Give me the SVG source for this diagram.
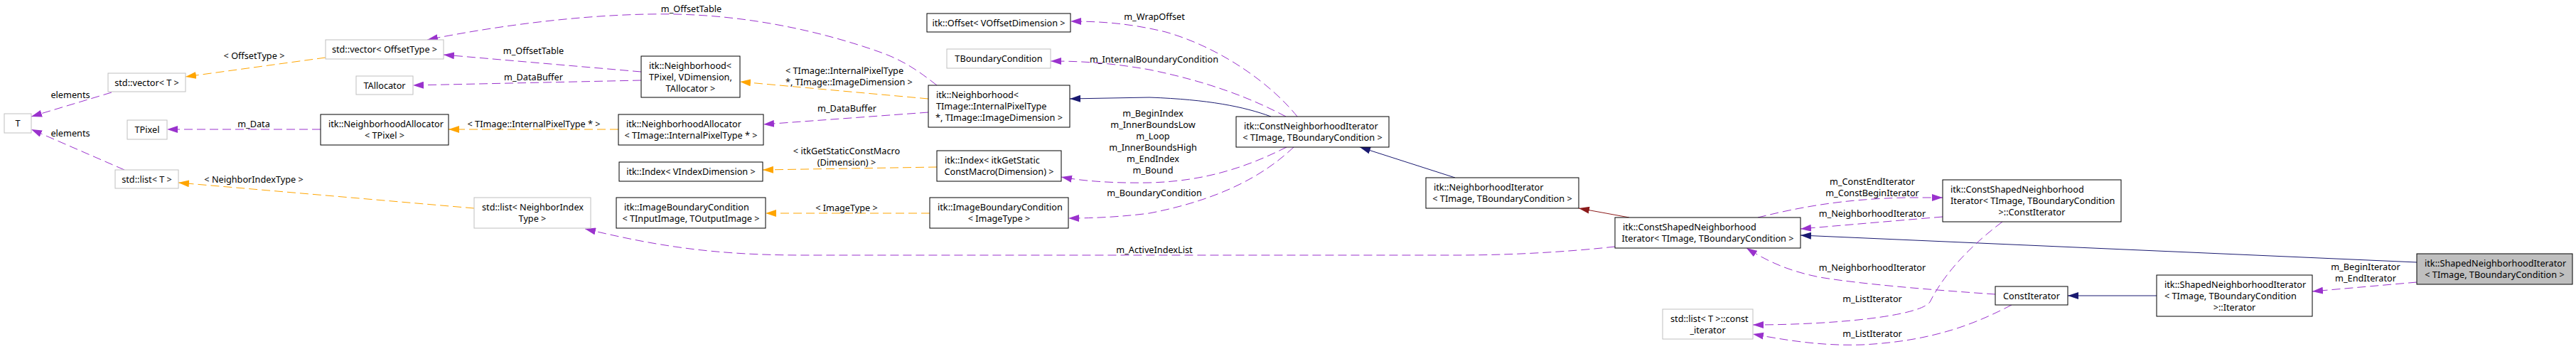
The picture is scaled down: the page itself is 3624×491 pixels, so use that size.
<svg xmlns="http://www.w3.org/2000/svg" width="3624" height="491" viewBox="0 0 3624 491">
<style>
rect{fill:#fff;stroke:#000;stroke-width:1}
.g rect{stroke:#bfbfbf}
.h rect{fill:#bfbfbf;stroke:#000}
text{font-family:"Noto Sans","Open Sans","DejaVu Sans",sans-serif;font-size:12.7px;fill:#000}
.c{text-anchor:middle}
.l{text-anchor:start}
#edges path{fill:none;stroke-width:1}
#edges .p{stroke:#9a32cd;stroke-dasharray:12,6}
#edges .o{stroke:#ffa500;stroke-dasharray:12,6}
#edges .b{stroke:#191970}
#edges .r{stroke:#8b1a1a}
</style>
<defs>
<marker id="ap" viewBox="0 0 15 10" refX="15" refY="5" markerWidth="15" markerHeight="10" markerUnits="userSpaceOnUse" orient="auto"><path d="M0,0L15,5L0,10z" fill="#9a32cd"/></marker>
<marker id="ao" viewBox="0 0 15 10" refX="15" refY="5" markerWidth="15" markerHeight="10" markerUnits="userSpaceOnUse" orient="auto"><path d="M0,0L15,5L0,10z" fill="#ffa500"/></marker>
<marker id="ab" viewBox="0 0 15 10" refX="15" refY="5" markerWidth="15" markerHeight="10" markerUnits="userSpaceOnUse" orient="auto"><path d="M0,0L15,5L0,10z" fill="#191970"/></marker>
<marker id="ar" viewBox="0 0 15 10" refX="15" refY="5" markerWidth="15" markerHeight="10" markerUnits="userSpaceOnUse" orient="auto"><path d="M0,0L15,5L0,10z" fill="#8b1a1a"/></marker>
</defs>
<rect x="0" y="0" width="3624" height="491" style="fill:#fff;stroke:none"/>
<g id="edges">
<path class="p" marker-end="url(#ap)" d="M157,130L44,164"/>
<path class="p" marker-end="url(#ap)" d="M175,239L44,182"/>
<path class="o" marker-end="url(#ao)" d="M458,81L261,108"/>
<path class="p" marker-end="url(#ap)" d="M451,182L235,182"/>
<path class="o" marker-end="url(#ao)" d="M667,293L251,257"/>
<path class="p" marker-end="url(#ap)" d="M902,101L624,77"/>
<path class="p" marker-end="url(#ap)" d="M902,113L581,120"/>
<path class="o" marker-end="url(#ao)" d="M870,182L631,182"/>
<path class="p" marker-end="url(#ap)" d="M1318,120C1290,98 1270,85 1240,74C1150,42 1050,22 950,20C850,18 720,32 601,56"/>
<path class="o" marker-end="url(#ao)" d="M1306,139L1041,115"/>
<path class="p" marker-end="url(#ap)" d="M1306,158L1074,175"/>
<path class="o" marker-end="url(#ao)" d="M1318,235L1073,239"/>
<path class="o" marker-end="url(#ao)" d="M1308,300L1077,300"/>
<path class="p" marker-end="url(#ap)" d="M2272,347C2200,355 2120,359 2050,359L1130,359C1000,359 920,345 823,322"/>
<path class="p" marker-end="url(#ap)" d="M1825,164C1790,120 1720,68 1640,45C1590,33 1550,30 1506,30"/>
<path class="p" marker-end="url(#ap)" d="M1809,164C1760,138 1700,115 1617,98C1560,88 1520,86 1478,86"/>
<path class="b" marker-end="url(#ab)" d="M1788,164C1750,150 1700,140 1617,137L1505,139"/>
<path class="p" marker-end="url(#ap)" d="M1810,207C1760,232 1700,255 1617,257C1560,258 1520,254 1493,249"/>
<path class="p" marker-end="url(#ap)" d="M1820,207C1780,245 1720,280 1617,300C1570,306 1530,307 1503,307"/>
<path class="b" marker-end="url(#ab)" d="M2047,250L1913,207"/>
<path class="r" marker-end="url(#ar)" d="M2292,306L2221,293"/>
<path class="b" marker-end="url(#ab)" d="M3400,369L2533,331"/>
<path class="p" marker-end="url(#ap)" d="M2473,306C2530,292 2590,280 2683,278L2733,278"/>
<path class="p" marker-end="url(#ap)" d="M2733,305L2533,322"/>
<path class="p" marker-end="url(#ap)" d="M2807,414C2720,408 2620,400 2560,390C2520,382 2490,370 2457,349"/>
<path class="p" marker-end="url(#ap)" d="M2817,312C2760,355 2730,395 2715,425C2700,445 2580,457 2466,457"/>
<path class="p" marker-end="url(#ap)" d="M2830,429C2780,455 2720,480 2620,485C2560,487 2510,478 2466,470"/>
<path class="b" marker-end="url(#ab)" d="M3034,416L2909,416"/>
<path class="p" marker-end="url(#ap)" d="M3400,397L3253,410"/>
<g id="edge-labels">
<text class="c" x="99" y="137.5">elements</text>
<text class="c" x="99" y="191.5">elements</text>
<text class="c" x="357.5" y="82.5">&lt; OffsetType &gt;</text>
<text class="c" x="357" y="178.5">m_Data</text>
<text class="c" x="357" y="256.5">&lt; NeighborIndexType &gt;</text>
<text class="c" x="750.5" y="75.5">m_OffsetTable</text>
<text class="c" x="750.5" y="112.5">m_DataBuffer</text>
<text class="c" x="751" y="178.5">&lt; TImage::InternalPixelType * &gt;</text>
<text class="c" x="972.5" y="16.5">m_OffsetTable</text>
<text class="l" x="1105" y="103.5">&lt; TImage::InternalPixelType</text>
<text class="l" x="1105" y="119.5">*, TImage::ImageDimension &gt;</text>
<text class="c" x="1191.5" y="156.5">m_DataBuffer</text>
<text class="c" x="1191" y="216.5">&lt; itkGetStaticConstMacro</text>
<text class="c" x="1191" y="232.5">(Dimension) &gt;</text>
<text class="c" x="1191" y="296.5">&lt; ImageType &gt;</text>
<text class="c" x="1624" y="27.5">m_WrapOffset</text>
<text class="c" x="1623.5" y="87.5">m_InternalBoundaryCondition</text>
<text class="c" x="1622" y="163.5">m_BeginIndex</text>
<text class="c" x="1622" y="179.5">m_InnerBoundsLow</text>
<text class="c" x="1622" y="195.5">m_Loop</text>
<text class="c" x="1622" y="211.5">m_InnerBoundsHigh</text>
<text class="c" x="1622" y="227.5">m_EndIndex</text>
<text class="c" x="1622" y="243.5">m_Bound</text>
<text class="c" x="1624" y="275.5">m_BoundaryCondition</text>
<text class="c" x="1624" y="355.5">m_ActiveIndexList</text>
<text class="c" x="2634" y="259.5">m_ConstEndIterator</text>
<text class="c" x="2634" y="275.5">m_ConstBeginIterator</text>
<text class="c" x="2634" y="304.5">m_NeighborhoodIterator</text>
<text class="c" x="2634" y="380.5">m_NeighborhoodIterator</text>
<text class="c" x="2634" y="424.5">m_ListIterator</text>
<text class="c" x="2634" y="473.5">m_ListIterator</text>
<text class="c" x="3328" y="380">m_BeginIterator</text>
<text class="c" x="3328" y="396">m_EndIterator</text>
</g>
</g>
<g id="n_T" class="g"><rect x="6" y="160" width="38" height="27"/><text class="c" x="25" y="178">T</text></g>
<g id="n_vecT" class="g"><rect x="152" y="103" width="109" height="26"/><text class="c" x="206.5" y="120.5">std::vector&lt; T &gt;</text></g>
<g id="n_TPixel" class="g"><rect x="179" y="169" width="56" height="27"/><text class="c" x="207" y="187">TPixel</text></g>
<g id="n_listT" class="g"><rect x="162" y="239" width="89" height="26"/><text class="c" x="206.5" y="256.5">std::list&lt; T &gt;</text></g>
<g id="n_vecOff" class="g"><rect x="458" y="56" width="166" height="27"/><text class="c" x="541" y="74">std::vector&lt; OffsetType &gt;</text></g>
<g id="n_TAlloc" class="g"><rect x="501" y="107" width="80" height="26"/><text class="c" x="541" y="124.5">TAllocator</text></g>
<g id="n_NAllocTP"><rect x="451" y="161" width="180" height="43"/><text class="l" x="462" y="179">itk::NeighborhoodAllocator</text><text class="c" x="541" y="195">&lt; TPixel &gt;</text></g>
<g id="n_listNIT" class="g"><rect x="667" y="278" width="164" height="43"/><text class="l" x="678" y="296">std::list&lt; NeighborIndex</text><text class="c" x="749" y="312">Type &gt;</text></g>
<g id="n_Neigh"><rect x="902" y="79" width="139" height="58"/><text class="l" x="913" y="96.5">itk::Neighborhood&lt;</text><text class="l" x="913" y="112.5">TPixel, VDimension,</text><text class="c" x="971.5" y="128.5">TAllocator &gt;</text></g>
<g id="n_NAllocTI"><rect x="870" y="161" width="204" height="43"/><text class="l" x="881" y="179">itk::NeighborhoodAllocator</text><text class="c" x="972" y="195">&lt; TImage::InternalPixelType * &gt;</text></g>
<g id="n_IndexV"><rect x="871" y="228" width="202" height="27"/><text class="c" x="972" y="246">itk::Index&lt; VIndexDimension &gt;</text></g>
<g id="n_IBC"><rect x="867" y="278" width="210" height="43"/><text class="l" x="878" y="296">itk::ImageBoundaryCondition</text><text class="c" x="972" y="312">&lt; TInputImage, TOutputImage &gt;</text></g>
<g id="n_Offset"><rect x="1304" y="19" width="202" height="26"/><text class="c" x="1405" y="36.5">itk::Offset&lt; VOffsetDimension &gt;</text></g>
<g id="n_TBC" class="g"><rect x="1332" y="69" width="146" height="27"/><text class="c" x="1405" y="87">TBoundaryCondition</text></g>
<g id="n_NeighTI"><rect x="1306" y="120" width="199" height="59"/><text class="l" x="1317" y="138">itk::Neighborhood&lt;</text><text class="l" x="1317" y="154">TImage::InternalPixelType</text><text class="c" x="1405.5" y="170">*, TImage::ImageDimension &gt;</text></g>
<g id="n_IndexG"><rect x="1318" y="212" width="175" height="43"/><text class="l" x="1329" y="230">itk::Index&lt; itkGetStatic</text><text class="c" x="1405.5" y="246">ConstMacro(Dimension) &gt;</text></g>
<g id="n_IBCI"><rect x="1308" y="278" width="195" height="43"/><text class="l" x="1319" y="296">itk::ImageBoundaryCondition</text><text class="c" x="1405.5" y="312">&lt; ImageType &gt;</text></g>
<g id="n_CNI"><rect x="1739" y="164" width="215" height="43"/><text class="l" x="1750" y="182">itk::ConstNeighborhoodIterator</text><text class="c" x="1846.5" y="198">&lt; TImage, TBoundaryCondition &gt;</text></g>
<g id="n_NI"><rect x="2006" y="250" width="215" height="43"/><text class="l" x="2017" y="268">itk::NeighborhoodIterator</text><text class="c" x="2113.5" y="284">&lt; TImage, TBoundaryCondition &gt;</text></g>
<g id="n_CSNI"><rect x="2272" y="306" width="261" height="43"/><text class="l" x="2283" y="324">itk::ConstShapedNeighborhood</text><text class="c" x="2402.5" y="340">Iterator&lt; TImage, TBoundaryCondition &gt;</text></g>
<g id="n_CSNI_CI"><rect x="2733" y="253" width="251" height="59"/><text class="l" x="2744" y="271">itk::ConstShapedNeighborhood</text><text class="l" x="2744" y="287">Iterator&lt; TImage, TBoundaryCondition</text><text class="c" x="2858.5" y="303">&gt;::ConstIterator</text></g>
<g id="n_listCI" class="g"><rect x="2339" y="435" width="127" height="42"/><text class="l" x="2350" y="452.5">std::list&lt; T &gt;::const</text><text class="c" x="2402.5" y="468.5">_iterator</text></g>
<g id="n_CI"><rect x="2807" y="403" width="102" height="26"/><text class="c" x="2858" y="420.5">ConstIterator</text></g>
<g id="n_SNI_I"><rect x="3034" y="387" width="219" height="58"/><text class="l" x="3045" y="404.5">itk::ShapedNeighborhoodIterator</text><text class="l" x="3045" y="420.5">&lt; TImage, TBoundaryCondition</text><text class="c" x="3143.5" y="436.5">&gt;::Iterator</text></g>
<g id="n_SNI" class="h"><rect x="3400" y="357" width="219" height="43"/><text class="l" x="3411" y="375">itk::ShapedNeighborhoodIterator</text><text class="c" x="3509.5" y="391">&lt; TImage, TBoundaryCondition &gt;</text></g>
</svg>
